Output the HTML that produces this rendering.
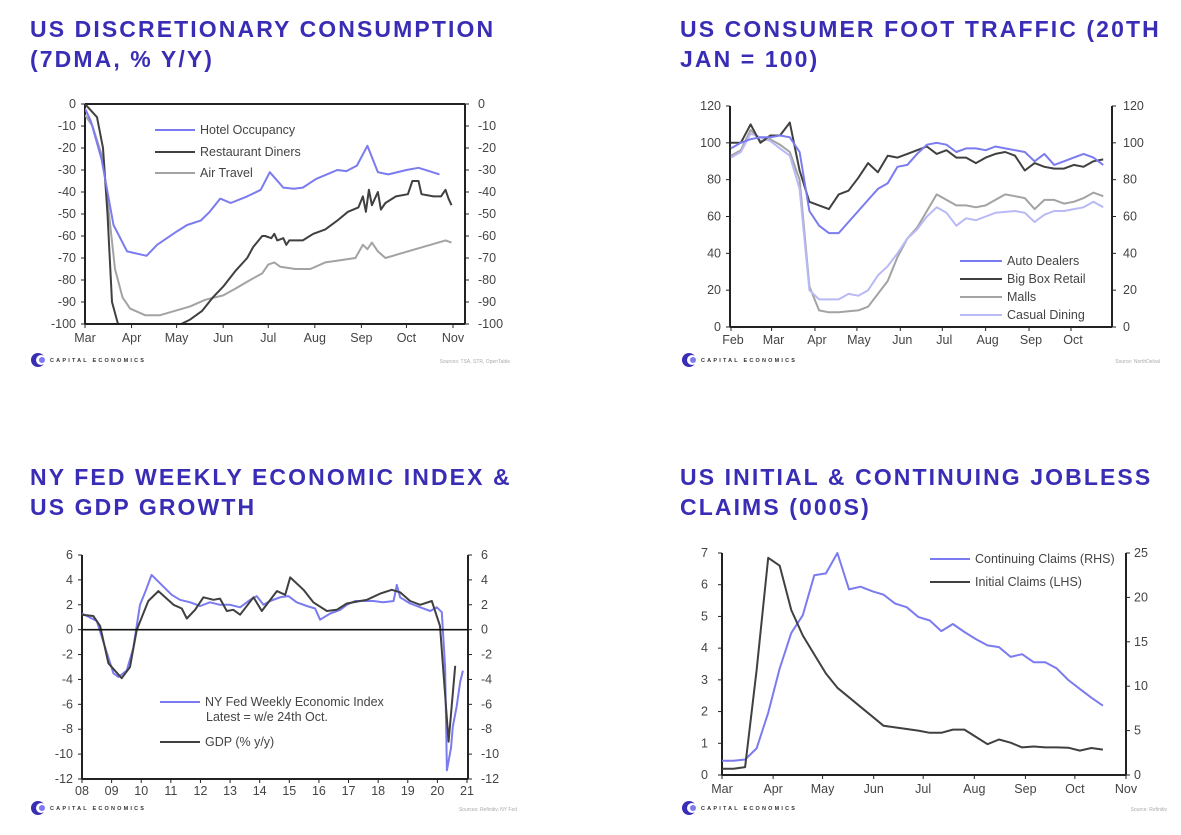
<!DOCTYPE html>
<html><head><meta charset="utf-8">
<style>
html,body{margin:0;padding:0;background:#fff;}
body{width:1181px;height:835px;position:relative;overflow:hidden;font-family:"Liberation Sans",sans-serif;}
.title{position:absolute;color:#3a2db5;font-weight:bold;font-size:23px;letter-spacing:2.1px;line-height:30px;margin:0;}
svg{position:absolute;left:0;top:0;}
</style></head>
<body>
<h1 class="title" style="left:30px;top:14px;">US DISCRETIONARY CONSUMPTION<br>(7DMA, % Y/Y)</h1>
<h1 class="title" style="left:680px;top:14px;">US CONSUMER FOOT TRAFFIC (20TH<br>JAN = 100)</h1>
<h1 class="title" style="left:30px;top:462px;">NY FED WEEKLY ECONOMIC INDEX &amp;<br>US GDP GROWTH</h1>
<h1 class="title" style="left:680px;top:462px;">US INITIAL &amp; CONTINUING JOBLESS<br>CLAIMS (000S)</h1>
<svg id="svg" width="1181" height="835"></svg>
<script>
// ---------- Chart 1 data (days since 1 Mar) ----------
const c1MonthLabels = ["Mar","Apr","May","Jun","Jul","Aug","Sep","Oct","Nov"];
const c1MonthDays = [0,31,61,92,122,153,184,214,245];
const c1YTicks = [0,-10,-20,-30,-40,-50,-60,-70,-80,-90,-100];
const hotelDays = [0,4,11,19,28,41,48,61,68,77,83,90,97,108,117,123,132,139,145,154,161,168,174,181,188,195,202,214,222,229,236];
const hotelVals = [-2,-8,-25,-55,-67,-69,-64,-58,-55,-53,-49,-43,-45,-42,-39,-31,-38,-38.5,-38,-34,-32,-30,-30.5,-28,-19,-31,-32,-30,-29,-30.5,-32];
const dinerDays = [0,4,8,12,15,18,22,64,70,78,85,92,100,108,112,118,120,124,126,128,132,134,136,145,152,160,168,175,182,185,187,189,191,193,195,197,200,207,215,218,222,224,232,237,240,242,244];
const dinerVals = [0,-3,-6,-20,-50,-90,-100,-100,-98,-94,-88,-83,-76,-70,-65,-60,-60,-61,-59,-62,-61,-64,-62,-62,-59,-57,-53,-49,-47,-42,-49,-39,-46,-43,-40,-48,-45,-42,-41,-35,-35,-41,-42,-42,-39,-43,-46];
const airDays = [0,5,12,16,20,25,30,40,50,60,70,80,92,100,110,118,122,126,130,140,150,160,170,180,185,188,191,195,200,210,220,230,240,244];
const airVals = [-5,-10,-25,-50,-75,-88,-93,-96,-96,-94,-92,-89,-87,-84,-80,-77,-73,-72,-74,-75,-75,-72,-71,-70,-64,-66,-63,-67,-70,-68,-66,-64,-62,-63];

// ---------- Chart 2 data (weekly from 1 Feb) ----------
const c2MonthLabels = ["Feb","Mar","Apr","May","Jun","Jul","Aug","Sep","Oct"];
const c2MonthDays = [0,29,60,90,121,151,182,213,243];
const c2YTicks = [0,20,40,60,80,100,120];
const autoVals = [97,100,102,103,103,104,103,95,63,55,51,51,57,63,69,75,78,87,88,94,99,100,99,95,97,97,96,98,97,96,95,90,94,88,90,92,94,92,88];
const bigBoxVals = [100,100,110,100,104,104,111,85,68,66,64,72,74,81,89,84,93,92,94,96,98,94,96,92,92,89,92,94,95,93,85,89,87,86,86,88,87,90,91];
const mallVals = [93,96,107,101,102,99,95,80,22,9,8,8,8.5,9,11,18,25,38,48,54,63,72,69,66,66,65,66,69,72,71,70,64,69,69,67,68,70,73,71];
const diningVals = [92,95,105,103,101,97,93,75,20,15,15,15,18,17,20,28,33,40,48,53,60,65,62,55,59,58,60,62,62.5,63,62,57,61,63,63,64,65,68,65];

// ---------- Chart 3 data (decimal years) ----------
const c3YearLabels = ["08","09","10","11","12","13","14","15","16","17","18","19","20","21"];
const c3YTicks = [6,4,2,0,-2,-4,-6,-8,-10,-12];
const weiYears = [2008.0,2008.5,2008.66,2008.83,2009.06,2009.23,2009.51,2009.73,2009.96,2010.13,2010.35,2010.69,2011.03,2011.31,2011.65,2011.99,2012.32,2012.66,2013.0,2013.34,2013.68,2013.9,2014.13,2014.35,2014.69,2014.97,2015.25,2015.59,2015.87,2016.04,2016.38,2016.72,2016.94,2017.22,2017.5,2017.84,2018.18,2018.52,2018.63,2018.74,2019.08,2019.42,2019.76,2019.98,2020.15,2020.26,2020.32,2020.46,2020.52,2020.65,2020.77,2020.86];
const weiVals = [1.3,0.7,-0.5,-1.8,-3.5,-3.8,-3.3,-1.5,2.0,3.0,4.4,3.6,2.8,2.4,2.2,1.9,2.2,2.0,2.0,1.8,2.4,2.7,2.0,2.3,2.6,2.7,2.2,1.9,1.7,0.8,1.3,1.6,2.0,2.3,2.3,2.3,2.2,2.3,3.6,2.6,2.1,1.8,1.5,1.8,1.4,-3,-11.3,-9.5,-7.8,-6.2,-4.2,-3.3];
const gdpYears = [2008.0,2008.38,2008.61,2008.89,2009.34,2009.62,2009.85,2010.24,2010.58,2011.09,2011.37,2011.54,2011.82,2012.10,2012.44,2012.66,2012.89,2013.11,2013.34,2013.79,2014.07,2014.58,2014.86,2015.03,2015.48,2015.81,2016.27,2016.60,2016.94,2017.39,2017.62,2018.07,2018.46,2018.74,2019.08,2019.42,2019.81,2020.09,2020.38,2020.60];
const gdpVals = [1.2,1.1,0.3,-2.7,-3.9,-3.0,0,2.3,3.1,2.0,1.7,0.9,1.6,2.6,2.4,2.5,1.5,1.6,1.2,2.6,1.5,3.1,2.8,4.2,3.2,2.2,1.5,1.6,2.1,2.3,2.4,2.9,3.2,3.0,2.3,2.0,2.3,0.3,-9.0,-2.9];

// ---------- Chart 4 data (weekly from 1 Mar) ----------
const c4MonthLabels = ["Mar","Apr","May","Jun","Jul","Aug","Sep","Oct","Nov"];
const c4MonthDays = [0,31,61,92,122,153,184,214,245];
const c4LeftTicks = [0,1,2,3,4,5,6,7];
const c4RightTicks = [0,5,10,15,20,25];
const initialVals = [0.2,0.2,0.25,3.3,6.85,6.6,5.2,4.4,3.8,3.2,2.75,2.45,2.15,1.85,1.55,1.5,1.45,1.4,1.33,1.33,1.43,1.43,1.2,0.97,1.12,1.02,0.87,0.9,0.87,0.87,0.86,0.77,0.85,0.8];
const continuingVals = [1.6,1.6,1.75,3.0,7,12,16,18,22.5,22.7,25,20.9,21.2,20.7,20.3,19.3,18.9,17.8,17.4,16.2,17.0,16.1,15.3,14.6,14.4,13.3,13.6,12.7,12.7,12.0,10.7,9.7,8.7,7.8];

const NS="http://www.w3.org/2000/svg";
const svg=document.getElementById('svg');
function el(tag,attrs,parent){const e=document.createElementNS(NS,tag);for(const k in attrs)e.setAttribute(k,attrs[k]);(parent||svg).appendChild(e);return e;}
function txt(x,y,s,anchor,size,fill,parent){const t=el('text',{x:x,y:y,'text-anchor':anchor||'start','font-size':size||12,fill:fill||'#333','font-family':'Liberation Sans, sans-serif'},parent);t.textContent=s;return t;}
function lin(a,b,c,d){return (v)=>c+(v-a)*(d-c)/(b-a);}
function pathD(xs,ys,fx,fy){let d='';for(let i=0;i<xs.length;i++){d+=(i?'L':'M')+fx(xs[i]).toFixed(1)+','+fy(ys[i]).toFixed(1);}return d;}
function series(name,xs,ys,fx,fy,color,w){const p=el('path',{d:pathD(xs,ys,fx,fy),fill:'none',stroke:color,'stroke-width':w||2,'stroke-linejoin':'round'});


return p;}
function legend(name,x1,x2,y,color,label){const g=el('g',{});


el('line',{x1:x1,x2:x2,y1:y,y2:y,stroke:color,'stroke-width':2},g);txt(x2+5,y+4,label,'start',12.5,'#444',g);return g;}
function logo(x,y,src,srcX){const g=el('g',{});


el('circle',{cx:x+7,cy:y,r:7,fill:'#3a2db5'},g);el('circle',{cx:x+10,cy:y,r:5,fill:'#fff'},g);el('circle',{cx:x+11,cy:y,r:3,fill:'#7b7bf0'},g);
const t=txt(x+19,y+2,'CAPITAL ECONOMICS','start',5.5,'#333',g);t.setAttribute('letter-spacing','2.2');t.setAttribute('font-weight','bold');
const s=txt(srcX,y+3,src,'end',5,'#aaa');

}
function frame(L,R,T,B,xAxisY){
const g=el('g',{});


el('line',{x1:L,x2:L,y1:T,y2:B,stroke:'#222','stroke-width':2},g);
el('line',{x1:R,x2:R,y1:T,y2:B,stroke:'#222','stroke-width':2},g);
el('line',{x1:L,x2:R,y1:xAxisY,y2:xAxisY,stroke:'#222','stroke-width':2},g);
el('line',{x1:L,x2:R,y1:T,y2:T,stroke:'#222','stroke-width':2},g);
return g;}

// ===== Chart 1 =====
(function(){
const L=85,R=465,T=104,B=324;
const fx=lin(0,245,85,453), fy=lin(0,-100,T,B);
const g=frame(L,R,T,B,B);
c1YTicks.forEach(v=>{const y=fy(v);el('line',{x1:L-4,x2:L,y1:y,y2:y,stroke:'#222'},g);el('line',{x1:R,x2:R+4,y1:y,y2:y,stroke:'#222'},g);
txt(L-9,y+4,String(v),'end',12.5,'#444');txt(R+13,y+4,String(v),'start',12.5,'#444');});
c1MonthDays.forEach((d,i)=>{const x=fx(d);el('line',{x1:x,x2:x,y1:B,y2:B+4,stroke:'#222'},g);txt(x,B+18,c1MonthLabels[i],'middle',12.5,'#444');});
const cp=el('clipPath',{id:'c1clip'});el('rect',{x:L,y:T,width:R-L,height:B-T},cp);
const sg=el('g',{'clip-path':'url(#c1clip)'});
sg.appendChild(series('air-travel-line',airDays,airVals,fx,fy,'#a3a3a3',2));
sg.appendChild(series('restaurant-diners-line',dinerDays,dinerVals,fx,fy,'#404040',2));
sg.appendChild(series('hotel-occupancy-line',hotelDays,hotelVals,fx,fy,'#7b7bf0',2));
el('line',{x1:L,x2:R,y1:B,y2:B,stroke:'#222','stroke-width':2});
legend('legend-hotel-occupancy',155,195,130,'#7b7bf0','Hotel Occupancy');
legend('legend-restaurant-diners',155,195,152,'#404040','Restaurant Diners');
legend('legend-air-travel',155,195,173,'#a3a3a3','Air Travel');
logo(31,360,'Sources: TSA, STR, OpenTable',510);
})();

// ===== Chart 2 =====
(function(){
const L=730,R=1112,T=106,B=327;
const fx=lin(0,243,731,1071), fy=lin(0,120,B,T);
const g=el('g',{});


el('line',{x1:L,x2:L,y1:T,y2:B,stroke:'#222','stroke-width':2},g);
el('line',{x1:R,x2:R,y1:T,y2:B,stroke:'#222','stroke-width':2},g);
el('line',{x1:L,x2:R,y1:B,y2:B,stroke:'#222','stroke-width':2},g);
c2YTicks.forEach(v=>{const y=fy(v);el('line',{x1:L-4,x2:L,y1:y,y2:y,stroke:'#222'},g);el('line',{x1:R,x2:R+4,y1:y,y2:y,stroke:'#222'},g);
txt(L-9,y+4,String(v),'end',12.5,'#444');txt(R+11,y+4,String(v),'start',12.5,'#444');});
c2MonthDays.forEach((d,i)=>{const x=fx(d);el('line',{x1:x,x2:x,y1:B,y2:B+4,stroke:'#222'},g);txt(x+2,B+17,c2MonthLabels[i],'middle',12.5,'#444');});
const days=autoVals.map((v,i)=>i*7);
series('malls-line',days,mallVals,fx,fy,'#a3a3a3',2);
series('casual-dining-line',days,diningVals,fx,fy,'#b9b9f5',2);
series('big-box-retail-line',days,bigBoxVals,fx,fy,'#404040',2);
series('auto-dealers-line',days,autoVals,fx,fy,'#7b7bf0',2);
legend('legend-auto-dealers',960,1002,261,'#7b7bf0','Auto Dealers');
legend('legend-big-box-retail',960,1002,279,'#404040','Big Box Retail');
legend('legend-malls',960,1002,297,'#a3a3a3','Malls');
legend('legend-casual-dining',960,1002,315,'#b9b9f5','Casual Dining');
logo(682,360,'Source: NorthDelval',1160);
})();

// ===== Chart 3 =====
(function(){
const L=82,R=468,T=555,B=779;
const fx=lin(2008,2021,82,467), fy=lin(6,-12,T,B);
const g=el('g',{});


el('line',{x1:L,x2:L,y1:T,y2:B,stroke:'#222','stroke-width':2},g);
el('line',{x1:R,x2:R,y1:T,y2:B,stroke:'#222','stroke-width':2},g);
el('line',{x1:L,x2:R,y1:B,y2:B,stroke:'#222','stroke-width':2},g);
c3YTicks.forEach(v=>{const y=fy(v);el('line',{x1:L-4,x2:L,y1:y,y2:y,stroke:'#222'},g);el('line',{x1:R,x2:R+4,y1:y,y2:y,stroke:'#222'},g);
txt(L-9,y+4,String(v),'end',12.5,'#444');txt(R+13,y+4,String(v),'start',12.5,'#444');});
c3YearLabels.forEach((s,i)=>{const x=fx(2008+i);el('line',{x1:x,x2:x,y1:B,y2:B+4,stroke:'#222'},g);txt(x,B+16,s,'middle',12.5,'#444');});
series('ny-fed-wei-line',weiYears,weiVals,fx,fy,'#7b7bf0',2);
series('gdp-line',gdpYears,gdpVals,fx,fy,'#404040',2);
const z=el('line',{x1:L,x2:R,y1:fy(0),y2:fy(0),stroke:'#111','stroke-width':1.6});


legend('legend-ny-fed-wei',160,200,702,'#7b7bf0','NY Fed Weekly Economic Index');
txt(206,721,'Latest = w/e 24th Oct.','start',12.5,'#444');
legend('legend-gdp',160,200,742,'#404040','GDP (% y/y)');
logo(31,808,'Sources: Refinitiv, NY Fed',517);
})();

// ===== Chart 4 =====
(function(){
const L=722,R=1126,T=553,B=775;
const fx=lin(0,245,722,1126), fyL=lin(0,7,B,T), fyR=lin(0,25,B,T);
const g=el('g',{});


el('line',{x1:L,x2:L,y1:T,y2:B,stroke:'#222','stroke-width':2},g);
el('line',{x1:R,x2:R,y1:T,y2:B,stroke:'#222','stroke-width':2},g);
el('line',{x1:L,x2:R,y1:B,y2:B,stroke:'#222','stroke-width':2},g);
c4LeftTicks.forEach(v=>{const y=fyL(v);el('line',{x1:L-4,x2:L,y1:y,y2:y,stroke:'#222'},g);txt(L-14,y+4,String(v),'end',12.5,'#444');});
c4RightTicks.forEach(v=>{const y=fyR(v);el('line',{x1:R,x2:R+4,y1:y,y2:y,stroke:'#222'},g);txt(R+8,y+4,String(v),'start',12.5,'#444');});
c4MonthDays.forEach((d,i)=>{const x=fx(d);el('line',{x1:x,x2:x,y1:B,y2:B+4,stroke:'#222'},g);txt(x,B+18,c4MonthLabels[i],'middle',12.5,'#444');});
const days=initialVals.map((v,i)=>i*7);
series('continuing-claims-line',days,continuingVals,fx,fyR,'#7b7bf0',2);
series('initial-claims-line',days,initialVals,fx,fyL,'#404040',2);
legend('legend-continuing-claims',930,970,559,'#7b7bf0','Continuing Claims (RHS)');
legend('legend-initial-claims',930,970,582,'#404040','Initial Claims (LHS)');
logo(682,808,'Source: Refinitiv',1167);
})();
</script>
</body></html>
